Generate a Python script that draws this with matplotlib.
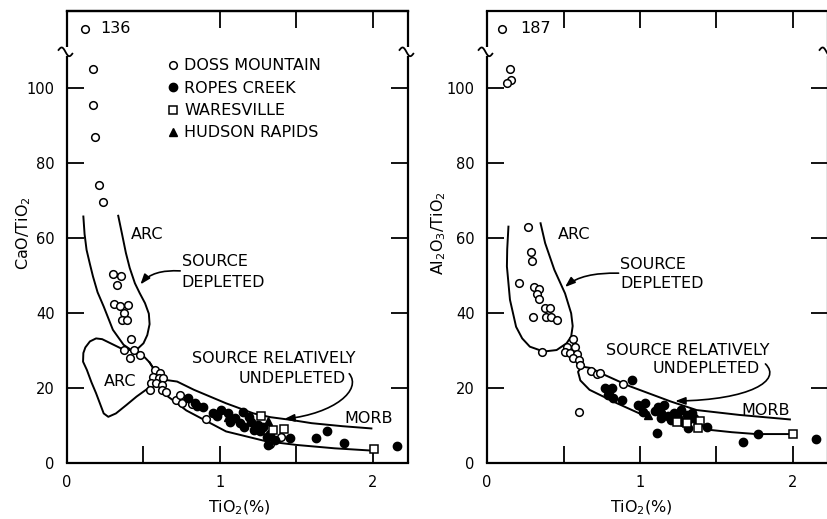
import numpy as np
import matplotlib
matplotlib.use('Agg')
import matplotlib.pyplot as plt
from matplotlib.patches import FancyArrowPatch
from matplotlib.path import Path
from matplotlib.lines import Line2D

plt.rcParams['font.family'] = 'DejaVu Sans'

# ---- CaO/TiO2 panel (left) ----
doss_ca_x = [0.17, 0.17, 0.18, 0.21, 0.235, 0.30, 0.353, 0.325, 0.31, 0.346, 0.40, 0.37, 0.357, 0.39,
             0.42, 0.37, 0.44, 0.41, 0.48, 0.575, 0.61, 0.565, 0.60, 0.63, 0.55, 0.585, 0.62, 0.54,
             0.62, 0.65, 0.71, 0.74, 0.75, 0.815, 0.906, 1.40, 1.33]
doss_ca_y = [105, 95.5, 87, 74, 69.6, 50.4, 49.9, 47.5, 42.4, 41.9, 42.2, 40.1, 38.1, 38.1,
             33, 30, 30.1, 27.9, 28.7, 24.8, 23.9, 23, 22.6, 22.6, 21.2, 21.2, 20.8, 19.5,
             19.5, 19, 16.8, 18, 15.9, 15.7, 11.7, 6.8, 5.0]
ropes_ca_x = [0.79, 0.84, 0.85, 0.89, 0.955, 1.01, 1.055, 1.065, 1.15, 1.13, 1.16, 1.20, 1.22, 1.26,
              1.305, 1.315, 1.36, 1.46, 1.63, 1.70, 1.81, 2.16, 1.10, 1.25, 1.28, 1.33, 0.98, 1.19]
ropes_ca_y = [17.2, 16.1, 15.2, 15, 13.4, 14.1, 13.2, 11, 13.7, 10.6, 9.7, 11, 8.8, 8.4,
              7, 4.8, 6.1, 6.6, 6.6, 8.6, 5.2, 4.6, 12, 10, 9.5, 7.8, 12.5, 12.2]
wares_ca_x = [1.27, 1.35, 1.42, 2.01]
wares_ca_y = [12.6, 8.8, 9.0, 3.6]
hudson_ca_x = [1.315, 1.05]
hudson_ca_y = [11.2, 12.2]
off_ca_x = [0.12]
off_ca_val = [136]

# ---- Al2O3/TiO2 panel (right) ----
doss_al_x = [0.15, 0.16, 0.13, 0.266, 0.29, 0.296, 0.21, 0.31, 0.34, 0.325, 0.34, 0.30, 0.38, 0.41,
             0.385, 0.42, 0.455, 0.36, 0.56, 0.525, 0.575, 0.51, 0.54, 0.585, 0.56, 0.60, 0.61,
             0.68, 0.72, 0.74, 0.60, 0.887, 0.80, 1.24, 1.33, 1.0]
doss_al_y = [105, 102, 101.2, 63, 56.2, 53.9, 47.9, 47, 46.3, 45, 43.7, 39, 41.2, 41.2,
             39, 39, 38.1, 29.7, 33, 31, 31, 29.7, 29.2, 29, 27.9, 27.5, 26.1,
             24.4, 23.7, 24, 13.7, 21, 18.5, 12.0, 12.2, 15.2]
ropes_al_x = [0.95, 0.77, 0.815, 0.79, 0.825, 0.88, 0.99, 1.03, 1.02, 1.12, 1.16, 1.11, 1.135, 1.185,
              1.22, 1.27, 1.305, 1.34, 1.315, 1.35, 1.315, 1.435, 1.675, 1.77, 2.15, 1.14, 1.20,
              1.25, 1.28, 1.38, 1.10]
ropes_al_y = [22.1, 19.9, 19.9, 18.1, 17.2, 16.8, 15.5, 15.9, 13.7, 15, 15.5, 7.9, 13.2, 12.4,
              13.2, 14.1, 12.8, 13.2, 11.5, 11.9, 9.2, 9.5, 5.5, 7.7, 6.4, 12, 11.5,
              12, 11, 10.5, 13.8]
wares_al_x = [2.0, 1.39, 1.24, 1.305, 1.38]
wares_al_y = [7.6, 11.3, 10.8, 10.6, 9.2]
hudson_al_x = [1.02, 1.05]
hudson_al_y = [14.1, 12.8]
off_al_x = [0.096]
off_al_val = [187]

# envelope outlines
dep_ca_x = [0.107, 0.115, 0.128, 0.15, 0.17, 0.20, 0.24, 0.30, 0.37, 0.42, 0.466, 0.50, 0.525, 0.54, 0.535,
            0.51, 0.475, 0.444, 0.41, 0.385, 0.36, 0.335]
dep_ca_y = [65.7, 61, 56.8, 53, 49.7, 45.5, 41.7, 35.5, 31.5, 30.1, 30.6, 31.9, 34.1, 37, 39.8,
            42.6, 45.3, 47.9, 52, 56, 61, 65.9]
arc_ca_x = [0.455, 0.35, 0.28, 0.23, 0.19, 0.15, 0.12, 0.107, 0.105, 0.13, 0.16, 0.19, 0.24, 0.27, 0.32,
            0.39, 0.455, 0.53, 0.565, 0.575, 0.54, 0.50, 0.455]
arc_ca_y = [29.7, 30.6, 32, 33, 33.2, 32.4, 30.8, 29.3, 27, 24.8, 21.5, 18.6, 13.2, 12.3, 13.2,
            15.5, 17.7, 19.9, 22.5, 24.5, 26.8, 28.5, 29.7]
morb_up_ca_x = [0.54, 0.585, 0.65, 0.72, 0.83, 1.04, 1.22, 1.33, 1.46, 1.6, 1.8, 1.99]
morb_up_ca_y = [26.8, 24, 22.1, 21.7, 19.5, 15.9, 13.2, 12.2, 11.5, 10.6, 9.8, 9.2]
morb_lo_ca_x = [0.575, 0.61, 0.66, 0.72, 0.78, 1.04, 1.30, 1.5, 1.75, 1.99]
morb_lo_ca_y = [22.5, 20.3, 17.7, 15.9, 14.0, 8.4, 5.8, 4.8, 3.9, 3.3]

dep_al_x = [0.14, 0.132, 0.13, 0.15, 0.19, 0.23, 0.28, 0.37, 0.455, 0.52, 0.55, 0.56, 0.55, 0.51, 0.44,
            0.38, 0.35]
dep_al_y = [63, 57, 52.4, 43.5, 36.3, 33.2, 31, 29.7, 30.1, 31.9, 33.7, 36.5, 39.9, 45.2, 51.5,
            58.6, 63.9]
morb_up_al_x = [1.04, 0.85, 0.67, 0.61, 0.595, 0.62, 0.68, 0.74, 0.93, 1.2, 1.37, 1.65, 1.98]
morb_up_al_y = [12.4, 15.9, 19.5, 22, 24.3, 25.7, 25.3, 24, 20.5, 16.4, 14.1, 12.8, 11.6]
morb_lo_al_x = [1.42, 1.46, 1.6, 1.76, 1.98]
morb_lo_al_y = [9.3, 8.8, 8.2, 7.7, 7.7]

XMAX = 2.229
YMAX = 120.5
YBREAK = 109.6
YOFF = 115.7

fig = plt.figure(figsize=(8.27, 5.19), dpi=100)
ax1 = fig.add_axes([0.081, 0.108, 0.4123, 0.8709])
ax2 = fig.add_axes([0.5889, 0.108, 0.4123, 0.8709])


def setup(ax, top_minor):
    ax.set_xlim(0, XMAX)
    ax.set_ylim(0, YMAX)
    ax.spines['left'].set_visible(False)
    ax.spines['right'].set_visible(False)
    ax.spines['top'].set_linewidth(1.6)
    ax.spines['bottom'].set_linewidth(1.6)
    ax.set_xticks([0, 0.5, 1, 1.5, 2])
    ax.set_xticklabels(['0', '', '1', '', '2'])
    ax.set_yticks([0, 20, 40, 60, 80, 100])
    ax.tick_params(direction='in', length=12, width=1.3, labelsize=10.5, right=True, pad=9)
    if top_minor:
        ax.tick_params(top=True)
    else:
        sec = ax.secondary_xaxis('top')
        sec.set_xticks([1, 1.5, 2])
        sec.tick_params(direction='in', length=12, width=1.3, labeltop=False)
        sec.spines['top'].set_linewidth(1.6)
    # broken vertical spines
    t = np.linspace(0, 1, 30)
    for xs in (0, XMAX):
        ax.plot([xs, xs], [0, YBREAK - 1.0], color='k', lw=1.6, clip_on=False, solid_capstyle='butt')
        ax.plot([xs, xs], [YBREAK + 1.3, YMAX], color='k', lw=1.6, clip_on=False, solid_capstyle='butt')
        ax.plot(xs - 0.055 + 0.09 * t, YBREAK + 0.5 - 1.0 * t + 0.9 * np.sin(2 * np.pi * t),
                color='k', lw=1.3, clip_on=False)


def arrow(ax, verts, codes):
    p = FancyArrowPatch(path=Path(verts, codes), arrowstyle='-|>,head_length=6,head_width=2.2',
                        lw=1.2, color='k', mutation_scale=1)
    ax.add_patch(p)


mk = dict(linestyle='none', markeredgecolor='k')
curve = dict(color='k', lw=1.4, solid_joinstyle='round')
txt = dict(fontsize=11.5, color='k')

# ---- left panel ----
setup(ax1, False)
ax1.plot(dep_ca_x, dep_ca_y, **curve)
ax1.plot(arc_ca_x, arc_ca_y, **curve)
ax1.plot(morb_up_ca_x, morb_up_ca_y, **curve)
ax1.plot(morb_lo_ca_x, morb_lo_ca_y, **curve)
ax1.plot(doss_ca_x, doss_ca_y, 'o', ms=5.5, mfc='white', mew=1.1, **mk)
ax1.plot(ropes_ca_x, ropes_ca_y, 'o', ms=6, mfc='k', **mk)
ax1.plot(wares_ca_x, wares_ca_y, 's', ms=5.5, mfc='white', mew=1.1, **mk)
ax1.plot(hudson_ca_x, hudson_ca_y, '^', ms=6, mfc='k', **mk)
ax1.plot(off_ca_x, [YOFF] * len(off_ca_x), 'o', ms=5.5, mfc='white', mew=1.1, **mk)
for x, v in zip(off_ca_x, off_ca_val):
    ax1.text(x + 0.1, YOFF, str(v), va='center', ha='left', **txt)

ax1.text(0.42, 60.8, 'ARC', va='center', ha='left', **txt)
ax1.text(0.75, 53.6, 'SOURCE', va='center', ha='left', **txt)
ax1.text(0.75, 48.0, 'DEPLETED', va='center', ha='left', **txt)
ax1.text(0.35, 21.7, 'ARC', va='center', ha='center', **txt)
ax1.text(1.35, 27.9, 'SOURCE RELATIVELY', va='center', ha='center', **txt)
ax1.text(1.47, 22.6, 'UNDEPLETED', va='center', ha='center', **txt)
ax1.text(1.97, 11.9, 'MORB', va='center', ha='center', **txt)
arrow(ax1, [(0.74, 51.2), (0.56, 51.6), (0.48, 47.6)], [Path.MOVETO, Path.CURVE3, Path.CURVE3])
arrow(ax1, [(1.845, 23.8), (1.93, 19.5), (1.75, 13.2), (1.42, 11.7)],
      [Path.MOVETO, Path.CURVE4, Path.CURVE4, Path.CURVE4])

handles = [
    Line2D([], [], marker='o', ms=5.5, mfc='white', mew=1.1, **mk),
    Line2D([], [], marker='o', ms=6, mfc='k', **mk),
    Line2D([], [], marker='s', ms=5.5, mfc='white', mew=1.1, **mk),
    Line2D([], [], marker='^', ms=6, mfc='k', **mk),
]
ax1.legend(handles, ['DOSS MOUNTAIN', 'ROPES CREEK', 'WARESVILLE', 'HUDSON RAPIDS'],
           loc='upper left', bbox_to_anchor=(0.295, 0.895), frameon=False, fontsize=11.5,
           handlelength=0.7, handletextpad=0.35, labelspacing=0.46, borderpad=0, borderaxespad=0)

# ---- right panel ----
setup(ax2, True)
ax2.plot(dep_al_x, dep_al_y, **curve)
ax2.plot(morb_up_al_x, morb_up_al_y, **curve)
ax2.plot(morb_lo_al_x, morb_lo_al_y, **curve)
ax2.plot(doss_al_x, doss_al_y, 'o', ms=5.5, mfc='white', mew=1.1, **mk)
ax2.plot(ropes_al_x, ropes_al_y, 'o', ms=6, mfc='k', **mk)
ax2.plot(wares_al_x, wares_al_y, 's', ms=5.5, mfc='white', mew=1.1, **mk)
ax2.plot(hudson_al_x, hudson_al_y, '^', ms=6, mfc='k', **mk)
ax2.plot(off_al_x, [YOFF] * len(off_al_x), 'o', ms=5.5, mfc='white', mew=1.1, **mk)
for x, v in zip(off_al_x, off_al_val):
    ax2.text(x + 0.12, YOFF, str(v), va='center', ha='left', **txt)

ax2.text(0.46, 60.8, 'ARC', va='center', ha='left', **txt)
ax2.text(0.87, 52.8, 'SOURCE', va='center', ha='left', **txt)
ax2.text(0.87, 47.9, 'DEPLETED', va='center', ha='left', **txt)
ax2.text(1.31, 30.1, 'SOURCE RELATIVELY', va='center', ha='center', **txt)
ax2.text(1.43, 25.2, 'UNDEPLETED', va='center', ha='center', **txt)
ax2.text(1.82, 13.9, 'MORB', va='center', ha='center', **txt)
arrow(ax2, [(0.86, 50.6), (0.62, 50.8), (0.51, 46.9)], [Path.MOVETO, Path.CURVE3, Path.CURVE3])
arrow(ax2, [(1.82, 26.4), (1.93, 22.0), (1.72, 16.8), (1.23, 16.5)],
      [Path.MOVETO, Path.CURVE4, Path.CURVE4, Path.CURVE4])

# axis titles
fig.text(0.029, 0.551, 'CaO/TiO$_2$', rotation=90, ha='center', va='center', fontsize=11.5)
fig.text(0.530, 0.551, 'Al$_2$O$_3$/TiO$_2$', rotation=90, ha='center', va='center', fontsize=11.5)
fig.text(0.289, 0.022, 'TiO$_2$(%)', ha='center', va='center', fontsize=11.5)
fig.text(0.776, 0.022, 'TiO$_2$(%)', ha='center', va='center', fontsize=11.5)

fig.savefig('out.png', dpi=100)
